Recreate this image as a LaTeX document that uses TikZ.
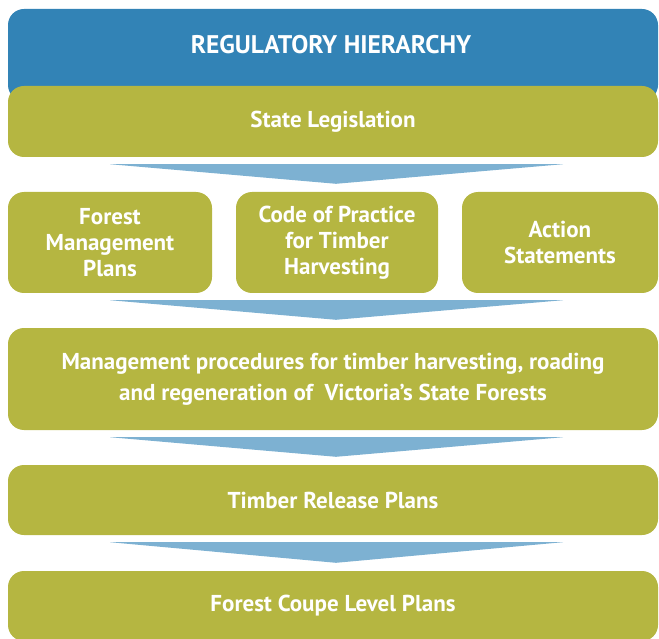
\documentclass[tikz,border=0pt]{standalone}
\usepackage{fontspec}
\setmainfont{PT Sans}
\usetikzlibrary{calc}
\definecolor{headblue}{HTML}{3283B6}
\definecolor{boxgreen}{HTML}{B5B641}
\definecolor{chevblue}{HTML}{7DB1D2}
\tikzset{
  greenbox/.style={rectangle, rounded corners=16pt, fill=boxgreen, text=white, align=center,
    inner sep=0pt, font=\fontsize{23}{26}\selectfont\bfseries},
  headbox/.style={rectangle, rounded corners=16pt, fill=headblue, inner sep=0pt},
  chevron/.style={fill=chevblue}
}
\begin{document}
\begin{tikzpicture}[x=1pt, y=-1pt]
      \useasboundingbox (0,0) rectangle (659,639);
      \node[headbox, minimum width=650pt, minimum height=92pt] (head) at (333,55) {};
      \node[text=white, font=\fontsize{25.5}{28}\selectfont\bfseries] (title) at (331,45) {REGULATORY HIERARCHY};
      \node[greenbox, minimum width=650pt, minimum height=71pt] (legis) at (333,121.5) {State Legislation};
      \node[greenbox, minimum width=204pt, minimum height=101pt] (fmp) at (110,242.5) {Forest\\Management\\Plans};
      \node[greenbox, minimum width=202pt, minimum height=101pt] (cop) at (337,242.5) {Code of Practice\\for Timber\\Harvesting};
      \node[greenbox, minimum width=196pt, minimum height=101pt] (act) at (560,242.5) {Action\\Statements};
      \node[greenbox, minimum width=650pt, minimum height=102pt, font=\fontsize{23}{31}\selectfont\bfseries] (mgmt) at (333,379) {Management procedures for timber harvesting, roading\\and regeneration of \ Victoria's State Forests};
      \node[greenbox, minimum width=650pt, minimum height=70pt] (trp) at (333,500) {Timber Release Plans};
      \node[greenbox, minimum width=650pt, minimum height=70pt] (fcl) at (333,606) {Forest Coupe Level Plans};

      \foreach \a/\b in {legis/cop, cop/mgmt, mgmt/trp, trp/fcl}
        \fill[chevron] ($(\a.south -| legis.south)+(-223,7)$) -- ($(\a.south -| legis.south)+(230,7)$)
          -- ($(\b.north -| legis.south)+(3,-8)$) -- cycle;
    \end{tikzpicture}
\end{document}
